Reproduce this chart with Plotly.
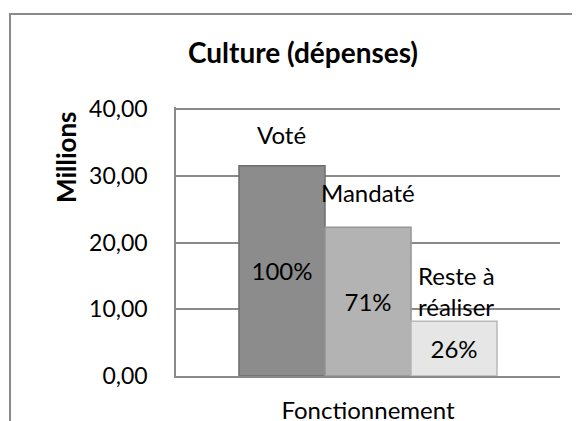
import plotly.graph_objects as go

# data
category = ["Fonctionnement"]
series = ["Voté", "Mandaté", "Reste à<br>réaliser"]
values = [31.5, 22.3, 8.2]
percents = ["100%", "71%", "26%"]
colors = ["#8c8c8c", "#b3b3b3", "#e6e6e6"]
edges = ["#6e6e6e", "#959595", "#b8b8b8"]

FONT = "Lato"
W, H = 572, 413          # page body adds an 8px margin
L, T, R, B = 168, 99, 20, 45
PW, PH = W - L - R, H - T - B

fig = go.Figure()
for name, v, p, c, e in zip(series, values, percents, colors, edges):
    fig.add_trace(go.Bar(
        x=category, y=[v], name=name, text=[p],
        textposition="inside", insidetextanchor="middle",
        textfont=dict(family=FONT, size=24, color="black"),
        marker=dict(color=c, line=dict(color=e, width=1.5)),
        showlegend=False, hoverinfo="skip",
    ))

# series names above the bars (Excel style data labels)
bar_px = PW * (1 - 0.328) / 3
label_shift = [(-bar_px, 15), (0, 18), (bar_px + 2, -2)]
for i, (name, v) in enumerate(zip(series, values)):
    dx, dy = label_shift[i]
    fig.add_annotation(
        x=category[0], y=v, xref="x", yref="y", text=name,
        showarrow=False, xshift=dx, yshift=dy, yanchor="bottom",
        align="left", font=dict(family=FONT, size=24, color="black"),
    )

fig.add_annotation(
    x=(58 - L) / PW, y=(T + PH - 149) / PH, xref="paper", yref="paper",
    xanchor="center", yanchor="middle", text="<b>Millions</b>",
    showarrow=False, textangle=-90,
    font=dict(family=FONT, size=26, color="black"),
)

fig.update_layout(
    width=W, height=H,
    margin=dict(l=L, r=R, t=T, b=B, autoexpand=False),
    paper_bgcolor="white", plot_bgcolor="white",
    separators=", ",
    bargap=0.328, bargroupgap=0, barmode="group",
    title=dict(text="<b>Culture (dépenses)</b>", x=295 / W, xanchor="center",
               y=1 - 45 / H, yanchor="middle",
               font=dict(family=FONT, size=28, color="black")),
    font=dict(family=FONT, size=23, color="black"),
    yaxis=dict(range=[0, 40.3], tickvals=[0, 10, 20, 30, 40], tickformat=".2f",
               showgrid=True, gridcolor="#8a8a8a", gridwidth=1.5,
               showline=True, linecolor="#8a8a8a", linewidth=1.5,
               ticks="", ticklabelstandoff=22, zeroline=False,
               automargin=False),
    xaxis=dict(showline=True, linecolor="#8a8a8a", linewidth=1.5,
               ticks="", ticklabelstandoff=12, automargin=False,
               tickfont=dict(size=24)),
)

# outer chart border (only top and left visible in the crop)
fig.add_shape(type="rect", xref="paper", yref="paper",
              x0=(2 - L) / PW, x1=1.3, y0=-0.5, y1=(T + PH - 6) / PH,
              line=dict(color="#8a8a8a", width=2), layer="below")

fig.write_html("out.html")
